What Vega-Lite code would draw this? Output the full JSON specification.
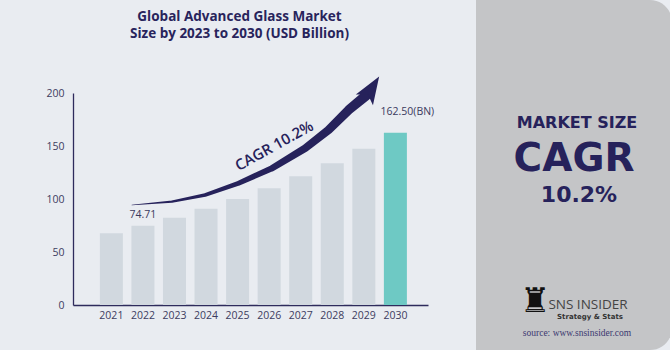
{
  "$schema": "https://vega.github.io/schema/vega-lite/v6.json",
  "background": "#e9ecf1",
  "padding": {"left": 45, "top": 0, "right": 0, "bottom": 0},
  "autosize": {"type": "pad"},
  "bounds": "flush",
  "spacing": 48,
  "config": {"view": {"stroke": null}, "font": "Open Sans"},
  "datasets": {
    "bars": [
      {"year": "2021", "value": 67.8, "label": ""},
      {"year": "2022", "value": 74.71, "label": "74.71"},
      {"year": "2023", "value": 82.3, "label": ""},
      {"year": "2024", "value": 90.7, "label": ""},
      {"year": "2025", "value": 100.0, "label": ""},
      {"year": "2026", "value": 110.2, "label": ""},
      {"year": "2027", "value": 121.4, "label": ""},
      {"year": "2028", "value": 133.8, "label": ""},
      {"year": "2029", "value": 147.4, "label": ""},
      {"year": "2030", "value": 162.5, "label": "162.50(BN)"}
    ],
    "arrow": [
      {"ax": 2021.65, "ay": 94.3},
      {"ax": 2022.92, "ay": 97.5},
      {"ax": 2023.97, "ay": 103.8},
      {"ax": 2025.03, "ay": 114.8},
      {"ax": 2026.09, "ay": 129.0},
      {"ax": 2027.14, "ay": 147.8},
      {"ax": 2027.88, "ay": 165.1},
      {"ax": 2028.52, "ay": 184.0},
      {"ax": 2029.06, "ay": 197.2}
    ],
    "head": [{"ax": 2029.24, "ay": 203.9}],
    "cagr": [{"ax": 2026.16, "ay": 150.2, "t": "CAGR 10.2%"}],
    "panel": [
      {"t": "MARKET SIZE"},
      {"t": "CAGR"},
      {"t": "10.2%"},
      {"t": "♜"},
      {"t": "SNS INSIDER"},
      {"t": "Strategy & Stats"},
      {"t": "source: www.snsinsider.com"}
    ]
  },
  "hconcat": [
    {
      "width": 355,
      "height": 350,
      "title": {
        "text": ["Global Advanced Glass Market", "Size by 2023 to 2030 (USD Billion)"],
        "fontSize": 13.5,
        "fontWeight": 700,
        "color": "#28245c",
        "lineHeight": 17,
        "offset": -40,
        "anchor": "middle",
        "dx": -11
      },
      "layer": [
        {
          "data": {"name": "bars"},
          "layer": [
            {
              "mark": {"type": "bar"},
              "encoding": {
                "x": {
                  "field": "year", "type": "ordinal",
                  "scale": {"paddingInner": 0.271, "paddingOuter": 0.76, "align": 0.56},
                  "axis": {"title": null, "ticks": false, "labelAngle": 0, "labelPadding": 5, "offset": -45,
                           "labelFontSize": 10.5, "labelColor": "#3d3c60", "domainColor": "#2e2b5c", "domainWidth": 1.3}
                },
                "y": {
                  "field": "value", "type": "quantitative",
                  "scale": {"domain": [0, 200], "range": [305, 93], "nice": false},
                  "axis": {"title": null, "ticks": false, "grid": false, "labelPadding": 9, "values": [0, 50, 100, 150, 200],
                           "labelFontSize": 10.5, "labelColor": "#3d3c60", "domainColor": "#2e2b5c", "domainWidth": 1.3}
                },
                "color": {"condition": {"test": "datum.year == '2030'", "value": "#6ec9c4"}, "value": "#d1d8df"}
              }
            },
            {
              "transform": [{"filter": "datum.year == '2022'"}],
              "mark": {"type": "text", "baseline": "bottom", "dy": -6, "fontSize": 10.5, "color": "#3b3a5e"},
              "encoding": {
                "x": {"field": "year", "type": "ordinal"},
                "y": {"field": "value", "type": "quantitative"},
                "text": {"field": "label"}
              }
            },
            {
              "transform": [{"filter": "datum.year == '2030'"}],
              "mark": {"type": "text", "baseline": "bottom", "dx": 12, "dy": -16, "fontSize": 10.5, "color": "#3b3a5e"},
              "encoding": {
                "x": {"field": "year", "type": "ordinal"},
                "y": {"field": "value", "type": "quantitative"},
                "text": {"field": "label"}
              }
            }
          ]
        },
        {
          "layer": [
            {
              "data": {"name": "arrow"},
              "mark": {"type": "trail", "color": "#26225b"},
              "encoding": {
                "x": {"field": "ax", "type": "quantitative", "scale": {"domain": [2019.784, 2031.034], "nice": false, "zero": false}, "axis": null},
                "y": {"field": "ay", "type": "quantitative"},
                "size": {"field": "ax", "type": "quantitative", "scale": {"zero": false, "range": [0.6, 10]}, "legend": null}
              }
            },
            {
              "data": {"name": "head"},
              "mark": {"type": "point", "filled": true, "opacity": 1, "color": "#26225b",
                       "shape": "M0,-1 L0.7,0.9 L0,0.45 L-0.7,0.9 Z", "size": 841, "angle": 32.4},
              "encoding": {
                "x": {"field": "ax", "type": "quantitative"},
                "y": {"field": "ay", "type": "quantitative"}
              }
            },
            {
              "data": {"name": "cagr"},
              "mark": {"type": "text", "angle": -29, "fontSize": 15, "fontWeight": 600, "color": "#26225b"},
              "encoding": {
                "x": {"field": "ax", "type": "quantitative"},
                "y": {"field": "ay", "type": "quantitative"},
                "text": {"field": "t"}
              }
            }
          ]
        }
      ],
      "resolve": {"scale": {"x": "independent"}, "axis": {"x": "independent"}}
    },
    {
      "width": 196,
      "height": 350,
      "layer": [
        {
          "data": {"values": [{}]},
          "mark": {"type": "rect", "color": "#c4c5c7", "cornerRadiusTopRight": 22, "cornerRadiusBottomRight": 22},
          "encoding": {}
        },
        {
          "data": {"name": "panel"},
          "transform": [{"filter": "datum.t == 'MARKET SIZE'"}],
          "mark": {"type": "text", "dx": 3, "dy": -52, "fontSize": 16, "fontWeight": "bold", "font": "DejaVu Sans", "color": "#26225b"},
          "encoding": {"text": {"field": "t"}}
        },
        {
          "data": {"name": "panel"},
          "transform": [{"filter": "datum.t == 'CAGR'"}],
          "mark": {"type": "text", "dx": 0, "dy": -16, "fontSize": 39, "fontWeight": "bold", "font": "DejaVu Sans", "color": "#26225b"},
          "encoding": {"text": {"field": "t"}}
        },
        {
          "data": {"name": "panel"},
          "transform": [{"filter": "datum.t == '10.2%'"}],
          "mark": {"type": "text", "dx": 5, "dy": 20, "fontSize": 22, "fontWeight": "bold", "font": "DejaVu Sans", "color": "#26225b"},
          "encoding": {"text": {"field": "t"}}
        },
        {
          "data": {"name": "panel"},
          "transform": [{"filter": "datum.t == '♜'"}],
          "mark": {"type": "text", "dx": -39, "dy": 127, "fontSize": 34, "font": "DejaVu Sans", "color": "#111111"},
          "encoding": {"text": {"field": "t"}}
        },
        {
          "data": {"name": "panel"},
          "transform": [{"filter": "datum.t == 'SNS INSIDER'"}],
          "mark": {"type": "text", "dx": 14, "dy": 130, "fontSize": 13.5, "fontWeight": 500, "color": "#444444"},
          "encoding": {"text": {"field": "t"}}
        },
        {
          "data": {"name": "panel"},
          "transform": [{"filter": "datum.t == 'Strategy & Stats'"}],
          "mark": {"type": "text", "dx": 16, "dy": 141.5, "fontSize": 7, "fontWeight": "bold", "font": "DejaVu Sans", "color": "#333333"},
          "encoding": {"text": {"field": "t"}}
        },
        {
          "data": {"name": "panel"},
          "transform": [{"filter": "datum.t == 'source: www.snsinsider.com'"}],
          "mark": {"type": "text", "dx": 3, "dy": 158, "fontSize": 9.5, "font": "Liberation Serif", "color": "#3b3870"},
          "encoding": {"text": {"field": "t"}}
        }
      ]
    }
  ]
}
